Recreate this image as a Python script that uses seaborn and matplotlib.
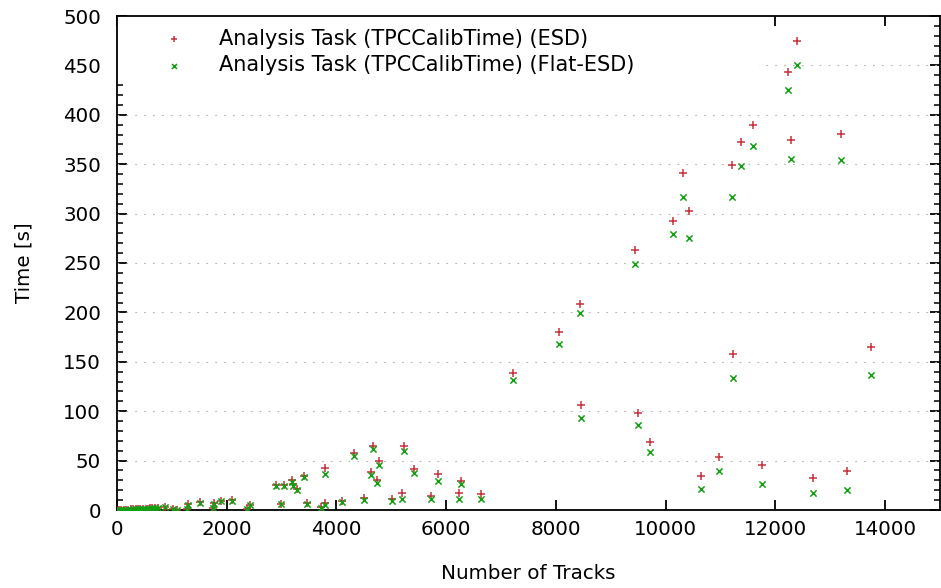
import pandas as pd
import matplotlib
matplotlib.use("Agg")
import matplotlib.pyplot as plt
import seaborn as sns
import numpy as np
from matplotlib.patches import Rectangle

# number of tracks per event
tracks = [10, 40, 80, 120, 160, 200, 250, 300, 340, 380, 420, 470, 520, 560, 600, 640, 690, 750,
          880, 1020, 1090, 1270, 1290, 1520, 1750, 1760, 1900, 2100, 2370, 2420,
          2890, 2990, 3040, 3190, 3210, 3280, 3410, 3460, 3715, 3794, 3800, 4103, 4314, 4497,
          4630, 4660, 4745, 4769, 5012, 5187, 5224, 5418, 5727, 5842, 6230, 6273, 6630,
          7218, 8054, 8436, 8460, 9436, 9503, 9709, 10127, 10321, 10430, 10653, 10963,
          11218, 11225, 11370, 11600, 11751, 12230, 12284, 12394, 12677, 13187, 13308, 13745]
# time [s], ESD
time_esd = [0.1, 0.2, 0.3, 0.3, 0.4, 0.5, 0.6, 0.7, 0.8, 0.9, 1.0, 1.2, 1.3, 1.5, 1.7, 1.9, 2.0, 2.3,
            3.4, 0.8, 0.3, 0.8, 5.8, 7.8, 1.8, 6.8, 9.4, 9.8, 0.8, 5.3,
            25.0, 6.2, 25.8, 30.0, 26.0, 21.5, 34.5, 6.6, 2.6, 42.2, 6.6, 9.0, 57.5, 12.5,
            38.5, 65.0, 30.4, 49.3, 10.8, 16.9, 65.0, 41.8, 14.2, 36.7, 16.9, 29.7, 15.9,
            139, 180, 209, 106, 263, 98, 69, 293, 341, 303, 34, 54,
            349, 158, 372, 390, 46, 443, 374, 475, 32, 381, 39, 165]
# time [s], Flat-ESD
time_flat = [0.1, 0.2, 0.2, 0.3, 0.4, 0.4, 0.5, 0.6, 0.7, 0.8, 0.9, 1.0, 1.2, 1.3, 1.5, 1.7, 1.8, 2.0,
             3.2, 0.7, 0.2, 0.6, 5.5, 7.5, 1.6, 6.5, 9.0, 9.5, 0.6, 4.8,
             23.8, 5.8, 24.6, 28.7, 24.6, 20.0, 33.0, 6.2, 2.2, 36.4, 5.2, 8.4, 54.7, 10.5,
             35.7, 61.5, 27.0, 45.5, 9.0, 10.8, 60.0, 37.8, 10.8, 29.7, 10.8, 26.0, 11.1,
             132, 168, 199, 93, 249, 86, 58.5, 279, 316.5, 275, 21.3, 39.5,
             316.5, 134, 348, 368, 26.3, 425, 355, 450, 17, 354, 20.2, 137]

labels = ["Analysis Task (TPCCalibTime) (ESD)", "Analysis Task (TPCCalibTime) (Flat-ESD)"]

df = pd.DataFrame({"tracks": tracks, "esd": time_esd, "flat": time_flat})

sns.set_style("white")
plt.rcParams["font.family"] = ["DejaVu Sans"]
plt.rcParams["text.color"] = "black"
plt.rcParams["axes.labelcolor"] = "black"
plt.rcParams["xtick.color"] = "black"
plt.rcParams["ytick.color"] = "black"

fig = plt.figure(figsize=(9.41, 5.88), dpi=100)
ax = fig.add_axes([117 / 941, 78 / 588, 823 / 941, 494 / 588])

sns.scatterplot(x="tracks", y="esd", data=df, ax=ax, marker="+", color="#c8323c",
                s=28, linewidth=1.1, label=labels[0], zorder=3)
sns.scatterplot(x="tracks", y="flat", data=df, ax=ax, marker="x", color="#10a010",
                s=20, linewidth=1.1, label=labels[1], zorder=4)

ax.set_xlim(0, 15000)
ax.set_ylim(0, 500)
ax.set_xticks(np.arange(0, 14001, 2000))
ax.set_yticks(np.arange(0, 501, 50))
ax.set_yticks(np.arange(0, 501, 10), minor=True)

for yv in range(50, 500, 50):
    ax.axhline(yv, color="#b4b4b4", lw=0.8, ls=(0, (1.5, 6.5)), zorder=1)
# key box hides the grid
ax.add_patch(Rectangle((0, 0.87), 0.78, 0.13, transform=ax.transAxes,
                       facecolor="white", edgecolor="none", zorder=2))

for s in ax.spines.values():
    s.set_color("black")
    s.set_linewidth(1.3)
ax.tick_params(axis="both", which="major", direction="in", length=7, width=1.3,
               bottom=True, left=True, top=True, right=True, labelsize=14.3)
ax.tick_params(axis="x", which="major", pad=7)
ax.tick_params(axis="y", which="major", pad=11.5)
ax.tick_params(axis="y", which="minor", direction="in", length=4, width=1.1,
               left=True, right=True)

ax.set_xlabel("Number of Tracks", fontsize=14.3, labelpad=18)
ax.set_ylabel("Time [s]", fontsize=14.3, labelpad=21)

ax.legend(loc="upper left", bbox_to_anchor=(0.056, 0.974), frameon=False, fontsize=15,
          handlelength=1, handletextpad=1.66, labelspacing=0.3, borderpad=0,
          borderaxespad=0, markerscale=0.8)

fig.savefig("out.png", dpi=100)
